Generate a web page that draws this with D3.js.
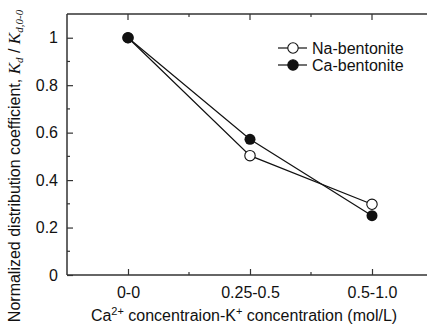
<!DOCTYPE html>
<html><head><meta charset="utf-8">
<script src="https://cdn.jsdelivr.net/npm/d3@7"></script>
<style>body{margin:0;background:#fff}svg{display:block}text{font-family:"Liberation Sans",Arial,sans-serif;fill:#111}</style>
</head><body>
<svg id="c" width="427" height="327"></svg>
<script>
const categories = ["0-0", "0.25-0.5", "0.5-1.0"];
const naValues = [1.0, 0.503, 0.298];
const caValues = [1.0, 0.572, 0.25];
const yTicks = [0, 0.2, 0.4, 0.6, 0.8, 1];
const seriesNames = ["Na-bentonite", "Ca-bentonite"];

const svg = d3.select("#c");
const L = 67, T = 14, R = 433, B = 275;
const x = d3.scalePoint().domain(categories).range([L, R]).padding(0.5);
const y = d3.scaleLinear().domain([0, 1.1]).range([B, T]);
const axisColor = "#333";
const FONT = '"Liberation Sans",Arial,sans-serif';

// frame
svg.append("line").attr("x1", L).attr("x2", L).attr("y1", T).attr("y2", B).attr("stroke", axisColor).attr("stroke-width", 1.5);
svg.append("line").attr("x1", L).attr("x2", 427).attr("y1", B).attr("y2", B).attr("stroke", axisColor).attr("stroke-width", 1.5);
svg.append("line").attr("x1", L).attr("x2", 427).attr("y1", T).attr("y2", T).attr("stroke", axisColor).attr("stroke-width", 1.5);

// y axis
const yAxis = d3.axisLeft(y).tickValues(yTicks).tickSize(-6).tickPadding(9).tickFormat(d => d === 0 ? "0" : d === 1 ? "1" : d3.format(".1f")(d));
const gy = svg.append("g").attr("transform", `translate(${L},0)`).call(yAxis);
gy.select(".domain").remove();
gy.selectAll(".tick line").attr("stroke", axisColor).attr("stroke-width", 1.2);
gy.selectAll(".tick text").attr("font-size", 16).style("font-family", FONT).attr("fill", "#111");
// minor y
const minorY = d3.range(0.1, 1.1, 0.2);
svg.append("g").selectAll("line").data(minorY).join("line")
  .attr("x1", L).attr("x2", L + 3).attr("y1", d => y(d)).attr("y2", d => y(d)).attr("stroke", axisColor).attr("stroke-width", 1.2);

// x axis
const xAxis = d3.axisBottom(x).tickSize(-6).tickPadding(12);
const gx = svg.append("g").attr("transform", `translate(0,${B})`).call(xAxis);
gx.select(".domain").remove();
gx.selectAll(".tick line").attr("stroke", axisColor).attr("stroke-width", 1.2);
gx.selectAll(".tick text").attr("font-size", 16).style("font-family", FONT).attr("fill", "#111");
// top ticks
svg.append("g").selectAll("line").data(categories).join("line")
  .attr("x1", d => x(d)).attr("x2", d => x(d)).attr("y1", T).attr("y2", T + 6).attr("stroke", axisColor).attr("stroke-width", 1.2);
// minor x at midpoints
const mids = categories.slice(1).map((c, i) => (x(categories[i]) + x(c)) / 2);
svg.append("g").selectAll("line").data(mids).join("line")
  .attr("x1", d => d).attr("x2", d => d).attr("y1", B).attr("y2", B - 3).attr("stroke", axisColor).attr("stroke-width", 1.2);
svg.append("g").selectAll("line").data(mids).join("line")
  .attr("x1", d => d).attr("x2", d => d).attr("y1", T).attr("y2", T + 3).attr("stroke", axisColor).attr("stroke-width", 1.2);

// lines
const line = d3.line().x((d, i) => x(categories[i])).y(d => y(d));
[naValues, caValues].forEach(v => {
  svg.append("path").datum(v).attr("d", line).attr("fill", "none").attr("stroke", "#111").attr("stroke-width", 1.2);
});
svg.append("g").selectAll("circle").data(naValues).join("circle")
  .attr("cx", (d, i) => x(categories[i])).attr("cy", d => y(d)).attr("r", 5.2)
  .attr("fill", "#fff").attr("stroke", "#111").attr("stroke-width", 1.1);
svg.append("g").selectAll("circle").data(caValues).join("circle")
  .attr("cx", (d, i) => x(categories[i])).attr("cy", d => y(d)).attr("r", 5.5)
  .attr("fill", "#111");

// legend
const lg = svg.append("g");
seriesNames.forEach((n, i) => {
  const yy = 48 + i * 17;
  lg.append("line").attr("x1", 278).attr("x2", 307).attr("y1", yy).attr("y2", yy).attr("stroke", "#111").attr("stroke-width", 1.2);
  lg.append("circle").attr("cx", 293).attr("cy", yy).attr("r", 5.2)
    .attr("fill", i === 0 ? "#fff" : "#111").attr("stroke", "#111").attr("stroke-width", 1.1);
  lg.append("text").attr("x", 312).attr("y", yy + 6).attr("font-size", 16).text(n);
});

// x title
const xt = svg.append("text").attr("x", 244).attr("y", 321).attr("text-anchor", "middle").attr("font-size", 16);
xt.append("tspan").text("Ca");
xt.append("tspan").attr("dy", -6).attr("font-size", 11).text("2+");
xt.append("tspan").attr("dy", 6).text(" concentraion-K");
xt.append("tspan").attr("dy", -6).attr("font-size", 11).text("+");
xt.append("tspan").attr("dy", 6).text(" concentration (mol/L)");

// y title
const yt = svg.append("text").attr("transform", "translate(20,166) rotate(-90)").attr("text-anchor", "middle").attr("font-size", 16);
yt.append("tspan").text("Normalized distribution coefficient, ");
yt.append("tspan").attr("font-style", "italic").style("font-family", '"Liberation Serif","Times New Roman",serif').attr("font-size", 17).text("K");
yt.append("tspan").attr("font-style", "italic").style("font-family", '"Liberation Serif","Times New Roman",serif').attr("font-size", 11).attr("dy", 3).text("d");
yt.append("tspan").attr("dy", -3).text(" / ");
yt.append("tspan").attr("font-style", "italic").style("font-family", '"Liberation Serif","Times New Roman",serif').attr("font-size", 17).text("K");
yt.append("tspan").attr("font-style", "italic").style("font-family", '"Liberation Serif","Times New Roman",serif').attr("font-size", 11).attr("dy", 3).text("d,0-0");
</script>
</body></html>
